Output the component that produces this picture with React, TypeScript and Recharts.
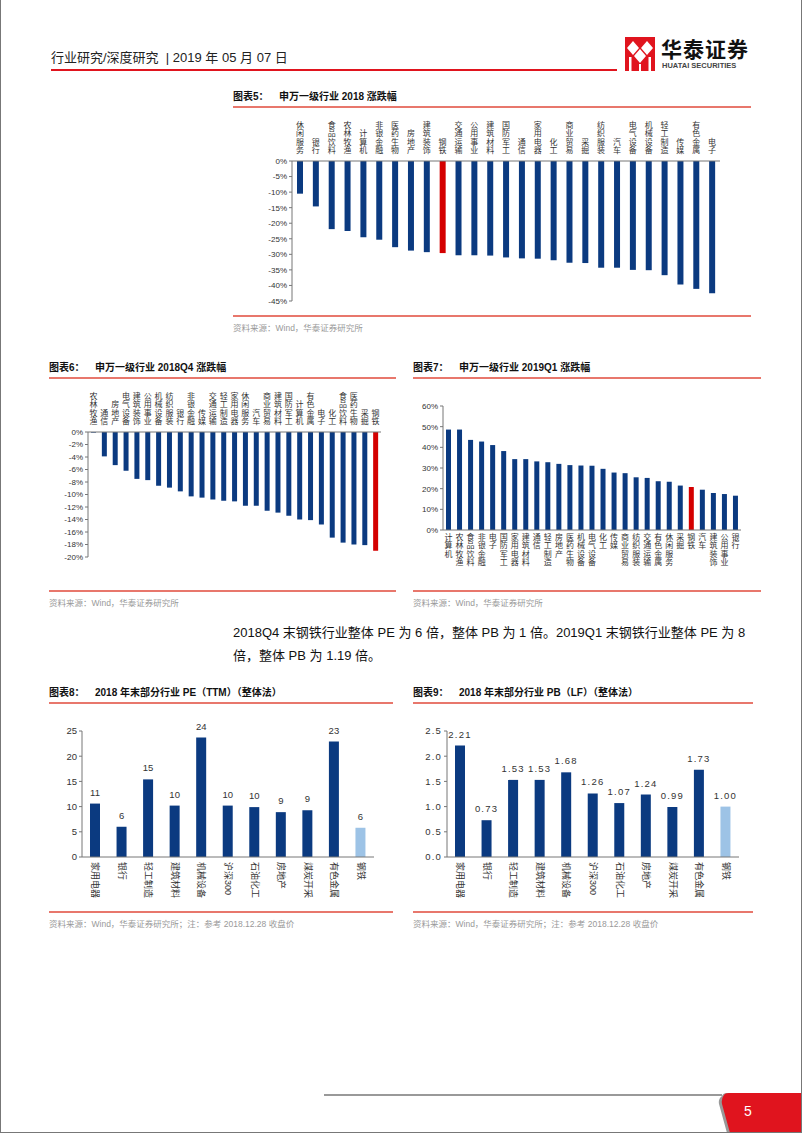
import React from 'react';
import { BarChart, Bar, XAxis, YAxis, Cell, LabelList } from 'recharts';

// 图表5：申万一级行业 2018 涨跌幅 (%)
const cats2018 = ['休闲服务', '银行', '食品饮料', '农林牧渔', '计算机', '非银金融', '医药生物', '房地产', '建筑装饰', '钢铁', '交通运输', '公用事业', '建筑材料', '国防军工', '通信', '家用电器', '化工', '商业贸易', '采掘', '纺织服装', '汽车', '电气设备', '机械设备', '轻工制造', '传媒', '有色金属', '电子'];
const chg2018 = [-10.5, -14.6, -21.9, -22.5, -24.5, -25.3, -27.7, -28.8, -29.3, -29.6, -30.3, -30.3, -30.4, -31.0, -31.3, -31.4, -31.9, -32.7, -32.8, -34.3, -34.3, -35.0, -35.1, -36.7, -39.7, -41.1, -42.5];

// 图表6：申万一级行业 2018Q4 涨跌幅 (%)
const cats2018Q4 = ['农林牧渔', '通信', '房地产', '电气设备', '建筑装饰', '公用事业', '机械设备', '纺织服装', '银行', '非银金融', '传媒', '交通运输', '轻工制造', '家用电器', '休闲服务', '汽车', '商业贸易', '建筑材料', '国防军工', '计算机', '有色金属', '电子', '化工', '食品饮料', '医药生物', '采掘', '钢铁'];
const chg2018Q4 = [-0.1, -3.9, -5.3, -6.2, -7.5, -7.7, -8.6, -8.9, -9.5, -10.3, -10.5, -10.8, -11.0, -11.1, -11.8, -11.8, -12.6, -12.9, -13.4, -14.0, -14.1, -14.8, -16.9, -17.7, -18.0, -18.1, -19.0];

// 图表7：申万一级行业 2019Q1 涨跌幅 (%)
const cats2019Q1 = ['计算机', '农林牧渔', '食品饮料', '非银金融', '电子', '国防军工', '家用电器', '建筑材料', '通信', '轻工制造', '房地产', '医药生物', '机械设备', '电气设备', '化工', '传媒', '商业贸易', '纺织服装', '交通运输', '有色金属', '休闲服务', '采掘', '钢铁', '汽车', '建筑装饰', '公用事业', '银行'];
const chg2019Q1 = [48.6, 48.6, 43.6, 42.8, 41.1, 38.2, 34.3, 34.3, 33.2, 32.8, 32.0, 31.4, 31.2, 31.1, 29.6, 27.8, 27.5, 25.5, 25.2, 23.6, 23.3, 21.5, 20.8, 19.5, 17.9, 17.4, 16.6];

// 图表8/9：2018 年末部分行业 PE(TTM) / PB(LF)
const valCats = ['家用电器', '银行', '轻工制造', '建筑材料', '机械设备', '沪深300', '石油化工', '房地产', '煤炭开采', '有色金属', '钢铁'];
const peVals = [10.6, 6.0, 15.4, 10.2, 23.7, 10.2, 9.9, 8.9, 9.3, 22.9, 5.8];
const pbVals = [2.21, 0.73, 1.53, 1.53, 1.68, 1.26, 1.07, 1.24, 0.99, 1.73, 1.0];

const ticks2018 = [0, -5, -10, -15, -20, -25, -30, -35, -40, -45];
const ticksQ4 = [0, -2, -4, -6, -8, -10, -12, -14, -16, -18, -20];
const ticksQ1 = [0, 10, 20, 30, 40, 50, 60];
const ticksPE = [0, 5, 10, 15, 20, 25];
const ticksPB = [0, 0.5, 1, 1.5, 2, 2.5];

const toRows = (cats: string[], vals: number[]) => cats.map((name, i) => ({ name, v: vals[i] }));
const data2018 = toRows(cats2018, chg2018);
const dataQ4 = toRows(cats2018Q4, chg2018Q4);
const dataQ1 = toRows(cats2019Q1, chg2019Q1);
const dataPE = toRows(valCats, peVals);
const dataPB = toRows(valCats, pbVals);

const BLUE = '#0B3A80';
const RED = '#D40000';
const LIGHT = '#9DC3E6';
const LINE_RED = '#E8776C';
const CJK = "'Liberation Sans', 'Noto Sans CJK SC', sans-serif";
const HL = '钢铁';

const StackedTick = (props: any) => {
  const { x, y, payload, up } = props;
  const chars = Array.from(String(payload.value));
  const n = chars.length;
  const lh = 8.3;
  return (
    <g>
      {chars.map((c, i) => (
        <text
          key={i}
          x={x}
          y={up ? Number(y) - 1 - (n - 1 - i) * lh : Number(y) + 7 + i * lh}
          textAnchor="middle"
          fontSize={8}
          fill="#333"
          fontFamily={CJK}
        >
          {c}
        </text>
      ))}
    </g>
  );
};

const RotTick = (props: any) => {
  const { x, y, payload } = props;
  return (
    <text
      x={x}
      y={y}
      transform={`rotate(90, ${x}, ${y})`}
      textAnchor="start"
      dominantBaseline="central"
      fontSize={9}
      fill="#333"
      fontFamily={CJK}
    >
      {payload.value}
    </text>
  );
};

const yTick = { fontSize: 8, fill: '#333', fontFamily: 'Liberation Sans' };
const axisLine = { stroke: '#777' };

const abs = (left: number, top: number, extra: React.CSSProperties = {}): React.CSSProperties => ({
  position: 'absolute',
  left,
  top,
  ...extra,
});

const Title = ({ left, top, width, no, text }: { left: number; top: number; width: number; no: string; text: string }) => (
  <>
    <div style={abs(left, top, { fontSize: 10, fontWeight: 700, lineHeight: '14px', color: '#111', fontFamily: CJK, whiteSpace: 'nowrap' })}>
      <span style={{ display: 'inline-block', width: 46 }}>{no}</span>
      {text}
    </div>
    <div style={abs(left, top + 16, { width, height: 1.5, background: LINE_RED })} />
  </>
);

const Source = ({ left, top, width, text }: { left: number; top: number; width: number; text: string }) => (
  <>
    <div style={abs(left, top, { width, height: 1.5, background: LINE_RED })} />
    <div style={abs(left, top + 7, { fontSize: 8.5, lineHeight: '12px', color: '#999', fontFamily: CJK, whiteSpace: 'nowrap' })}>{text}</div>
  </>
);

const fillFor = (name: string, hl: string) => (name === HL ? hl : BLUE);

export default function App() {
  return (
    <div
      style={{
        position: 'absolute',
        left: 0,
        top: 0,
        width: 802,
        height: 1133,
        boxSizing: 'border-box',
        background: '#fff',
        borderLeft: '1px solid #777',
        borderRight: '1px solid #777',
        borderBottom: '1px solid #777',
        overflow: 'hidden',
        fontFamily: CJK,
      }}
    >
      {/* header */}
      <div style={abs(50, 49, { fontSize: 13, lineHeight: '17px', color: '#222', whiteSpace: 'nowrap' })}>
        行业研究/深度研究 &nbsp;| 2019 年 05 月 07 日
      </div>
      <div style={abs(50, 69, { width: 566, height: 2, background: '#E0141E' })} />
      <svg style={abs(624, 37)} width={30} height={34} viewBox="0 0 30 34">
        <rect x={0} y={0} width={30} height={34} fill="#E0141E" />
        <polygon points="8,4 14,11 8,18 2,11" fill="#fff" />
        <polygon points="22,4 28,11 22,18 16,11" fill="#fff" />
        <polygon points="15,12 21,19 15,26 9,19" fill="#fff" />
        <rect x={4} y={20} width={2.5} height={14} fill="#fff" />
        <rect x={23.5} y={20} width={2.5} height={14} fill="#fff" />
        <rect x={14} y={27} width={2} height={7} fill="#fff" />
      </svg>
      <div style={abs(660, 35, { fontSize: 21, fontWeight: 700, lineHeight: '26px', color: '#111', fontFamily: "'Noto Sans CJK SC'", letterSpacing: 1 })}>
        华泰证券
      </div>
      <div style={abs(661, 61, { fontSize: 7.5, fontWeight: 700, lineHeight: '10px', color: '#444', fontFamily: 'Liberation Sans', whiteSpace: 'nowrap' })}>
        HUATAI SECURITIES
      </div>

      {/* 图表5 */}
      <Title left={232} top={90} width={518} no="图表5：" text="申万一级行业 2018 涨跌幅" />
      <div style={abs(232, 110)}>
        <BarChart width={500} height={200} data={data2018} margin={{ top: 6, right: 13, bottom: 9, left: 0 }}>
          <XAxis
            dataKey="name"
            orientation="top"
            interval={0}
            height={45}
            tickLine={false}
            tickSize={5}
            tickMargin={2}
            axisLine={axisLine}
            tick={(p: any) => <StackedTick {...p} up />}
          />
          <YAxis domain={[-45, 0]} ticks={ticks2018} interval={0} width={59} tickSize={3} tick={yTick} axisLine={axisLine} tickLine={{ stroke: '#777' }} tickFormatter={(v: number) => `${v}%`} />
          <Bar dataKey="v" barSize={6} isAnimationActive={false}>
            {data2018.map((d) => (
              <Cell key={d.name} fill={fillFor(d.name, RED)} />
            ))}
          </Bar>
        </BarChart>
      </div>
      <Source left={232} top={315} width={518} text="资料来源：Wind，华泰证券研究所" />

      {/* 图表6 */}
      <Title left={48} top={361} width={347} no="图表6：" text="申万一级行业 2018Q4 涨跌幅" />
      <div style={abs(48, 380)}>
        <BarChart width={345} height={185} data={dataQ4} margin={{ top: 2, right: 13, bottom: 8, left: 0 }}>
          <XAxis
            dataKey="name"
            orientation="top"
            interval={0}
            height={50}
            tickLine={false}
            tickSize={5}
            tickMargin={2}
            axisLine={axisLine}
            tick={(p: any) => <StackedTick {...p} up />}
          />
          <YAxis domain={[-20, 0]} ticks={ticksQ4} interval={0} width={39} tickSize={3} tick={yTick} axisLine={axisLine} tickLine={{ stroke: '#777' }} tickFormatter={(v: number) => `${v}%`} />
          <Bar dataKey="v" barSize={5} isAnimationActive={false}>
            {dataQ4.map((d) => (
              <Cell key={d.name} fill={fillFor(d.name, RED)} />
            ))}
          </Bar>
        </BarChart>
      </div>
      <Source left={48} top={590} width={347} text="资料来源：Wind，华泰证券研究所" />

      {/* 图表7 */}
      <Title left={412} top={361} width={348} no="图表7：" text="申万一级行业 2019Q1 涨跌幅" />
      <div style={abs(412, 395)}>
        <BarChart width={340} height={185} data={dataQ1} margin={{ top: 11, right: 12, bottom: 4, left: 0 }}>
          <XAxis
            dataKey="name"
            interval={0}
            height={46}
            tickLine={false}
            tickSize={2}
            tickMargin={1}
            axisLine={axisLine}
            tick={(p: any) => <StackedTick {...p} />}
          />
          <YAxis domain={[0, 60]} ticks={ticksQ1} interval={0} width={30} tickSize={3} tick={yTick} axisLine={axisLine} tickLine={{ stroke: '#777' }} tickFormatter={(v: number) => `${v}%`} />
          <Bar dataKey="v" barSize={5} isAnimationActive={false}>
            {dataQ1.map((d) => (
              <Cell key={d.name} fill={fillFor(d.name, RED)} />
            ))}
          </Bar>
        </BarChart>
      </div>
      <Source left={412} top={590} width={348} text="资料来源：Wind，华泰证券研究所" />

      {/* 正文 */}
      <div style={abs(232, 621, { width: 530, fontSize: 13, lineHeight: '23px', color: '#111', whiteSpace: 'nowrap' })}>
        2018Q4 末钢铁行业整体 PE 为 6 倍，整体 PB 为 1 倍。2019Q1 末钢铁行业整体 PE 为 8
        <br />
        倍，整体 PB 为 1.19 倍。
      </div>

      {/* 图表8 */}
      <Title left={48} top={686} width={344} no="图表8：" text="2018 年末部分行业 PE（TTM）（整体法）" />
      <div style={abs(48, 715)}>
        <BarChart width={340} height={190} data={dataPE} margin={{ top: 16, right: 15, bottom: 4, left: 0 }}>
          <XAxis dataKey="name" interval={0} height={44} tickLine={false} tickSize={3} tickMargin={2} axisLine={axisLine} tick={(p: any) => <RotTick {...p} />} />
          <YAxis domain={[0, 25]} ticks={ticksPE} interval={0} width={33} tickSize={3} tick={{ ...yTick, fontSize: 9.5 }} axisLine={axisLine} tickLine={{ stroke: '#777' }} />
          <Bar dataKey="v" barSize={10} isAnimationActive={false}>
            {dataPE.map((d) => (
              <Cell key={d.name} fill={fillFor(d.name, LIGHT)} />
            ))}
            <LabelList dataKey="v" position="top" offset={8} fontSize={9.5} fill="#333" fontFamily="Liberation Sans" formatter={(v: any) => Math.round(Number(v))} />
          </Bar>
        </BarChart>
      </div>
      <Source left={48} top={911} width={344} text="资料来源：Wind，华泰证券研究所；注：参考 2018.12.28 收盘价" />

      {/* 图表9 */}
      <Title left={412} top={686} width={340} no="图表9：" text="2018 年末部分行业 PB（LF）（整体法）" />
      <div style={abs(412, 715)}>
        <BarChart width={340} height={190} data={dataPB} margin={{ top: 16, right: 14, bottom: 4, left: 0 }}>
          <XAxis dataKey="name" interval={0} height={44} tickLine={false} tickSize={3} tickMargin={2} axisLine={axisLine} tick={(p: any) => <RotTick {...p} />} />
          <YAxis
            domain={[0, 2.5]}
            ticks={ticksPB}
            interval={0}
            width={34}
            tickSize={3}
            tick={{ ...yTick, fontSize: 9.5, letterSpacing: 1.2 }}
            axisLine={axisLine}
            tickLine={{ stroke: '#777' }}
            tickFormatter={(v: number) => v.toFixed(1)}
          />
          <Bar dataKey="v" barSize={10} isAnimationActive={false}>
            {dataPB.map((d) => (
              <Cell key={d.name} fill={fillFor(d.name, LIGHT)} />
            ))}
            <LabelList dataKey="v" position="top" offset={8} fontSize={9.5} fill="#333" fontFamily="Liberation Sans" letterSpacing={1.2} formatter={(v: any) => Number(v).toFixed(2)} />
          </Bar>
        </BarChart>
      </div>
      <Source left={412} top={911} width={340} text="资料来源：Wind，华泰证券研究所；注：参考 2018.12.28 收盘价" />

      {/* footer */}
      <div style={abs(323, 1094, { width: 398, height: 2, background: '#999' })} />
      <svg style={abs(712, 1090)} width={90} height={43} viewBox="0 0 90 43">
        <path d="M9,6 Q10,3 14,3 L90,3 L90,43 L14,43 L6,14 Q5,9 9,6 Z" fill="#999" />
        <path d="M11,5 Q12,3 16,3 L90,3 L90,43 L17,43 L9,14 Q8,9 11,5 Z" fill="#E0141E" />
      </svg>
      <div style={abs(743, 1102, { fontSize: 14, lineHeight: '18px', color: '#fff', fontFamily: 'Liberation Sans' })}>5</div>
    </div>
  );
}
